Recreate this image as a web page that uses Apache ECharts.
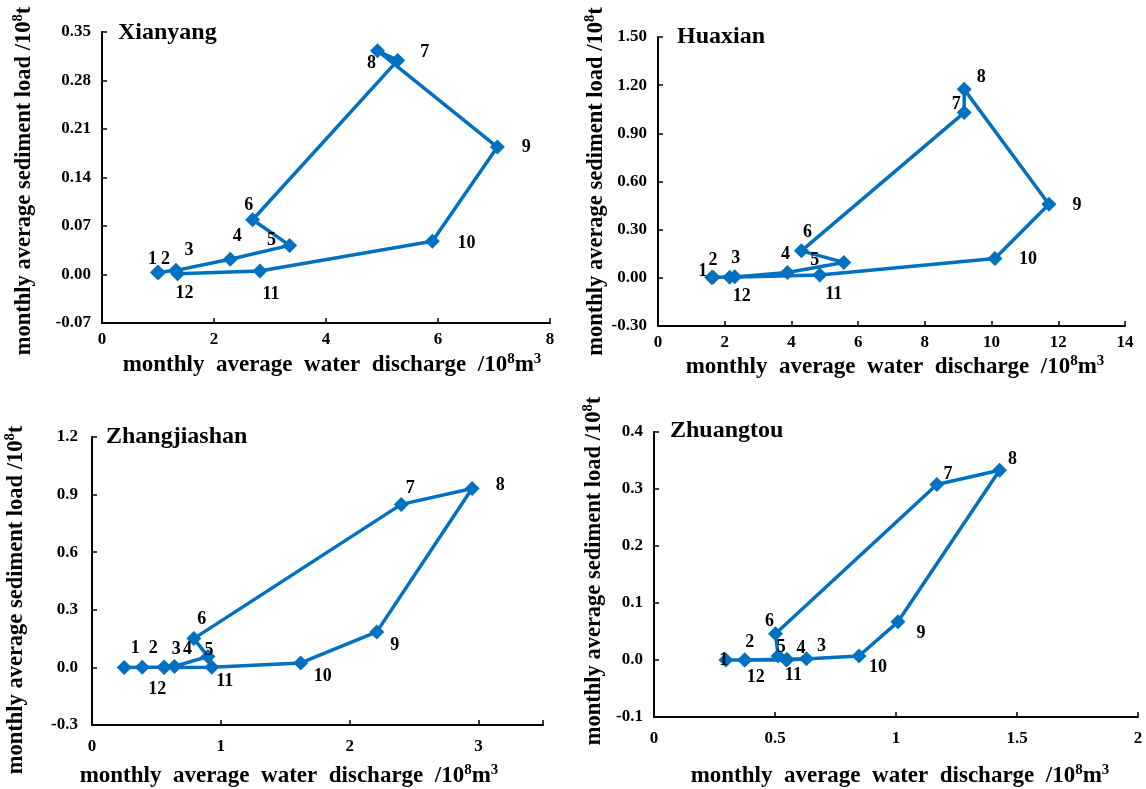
<!DOCTYPE html>
<html>
<head>
<meta charset="utf-8">
<script src="https://cdn.jsdelivr.net/npm/echarts@6/dist/echarts.min.js"></script>
<style>
  html, body { margin: 0; padding: 0; background: #fff; }
  #chart { width: 1146px; height: 789px; }
</style>
</head>
<body>
<div id="chart"></div>
<script>
// month numbers used as point labels
const months = ['1', '2', '3', '4', '5', '6', '7', '8', '9', '10', '11', '12'];
const stations = ['Xianyang', 'Huaxian', 'Zhangjiashan', 'Zhuangtou'];

// monthly average water discharge (10^8 m3) and sediment load (10^8 t)
const xianyangWater = [0.99, 1.01, 1.32, 2.29, 3.35, 2.69, 5.28, 4.92, 7.06, 5.90, 2.82, 1.35];
const xianyangSed = [0.003, 0.003, 0.006, 0.022, 0.042, 0.079, 0.309, 0.323, 0.184, 0.048, 0.005, 0.001];
const huaxianWater = [1.61, 1.65, 2.30, 3.88, 5.57, 4.30, 9.18, 9.18, 11.72, 10.10, 4.85, 2.15];
const huaxianSed = [0.002, 0.003, 0.006, 0.033, 0.096, 0.168, 1.029, 1.174, 0.458, 0.121, 0.017, 0.003];
const zhangWater = [0.25, 0.39, 0.56, 0.64, 0.90, 0.79, 2.40, 2.95, 2.21, 1.62, 0.93, 0.56];
const zhangSed = [0.000, 0.001, 0.002, 0.005, 0.057, 0.150, 0.849, 0.932, 0.185, 0.023, 0.001, 0.000];
const zhuangWater = [0.297, 0.375, 0.630, 0.550, 0.513, 0.502, 1.169, 1.428, 1.008, 0.847, 0.547, 0.375];
const zhuangSed = [0.000, 0.000, 0.002, 0.001, 0.007, 0.046, 0.308, 0.333, 0.067, 0.007, 0.000, 0.000];

// axis ticks
const xTicks = [[0, 8, 2], [0, 14, 2], [0, 3.5, 1], [0, 2, 0.5]];
const yTicks = [[-0.07, 0.35, 0.07], [-0.30, 1.50, 0.30], [-0.3, 1.2, 0.3], [-0.1, 0.4, 0.1]];
const yDigits = [2, 2, 1, 1];

// where each month label sits relative to its point (px)
const labelOffsets = [
  [[-5, -13], [7, -13], [13, -20], [7, -23], [-18, -5], [-4, -14], [27, -8], [-6, 13], [29, 0], [34, 2], [11, 23], [7, 20]],
  [[-9, -6], [0, -17], [1, -19], [-2, -18], [-29, -2], [6, -19], [-8, -8], [17, -12], [28, 1], [33, 1], [14, 19], [12, 19]],
  [[11, -19], [11, -19], [12, -18], [13, -17], [1, -6], [8, -19], [9, -16], [28, -3], [18, 13], [22, 13], [13, 14], [-7, 22]],
  [[-2, 0], [5, -18], [15, -13], [14, -11], [3, -9], [-6, -12], [11, -10], [13, -11], [23, 12], [19, 11], [7, 15], [11, 17]]
];

const seriesData = [
  [xianyangWater, xianyangSed],
  [huaxianWater, huaxianSed],
  [zhangWater, zhangSed],
  [zhuangWater, zhuangSed]
];

const grids = [
  { left: 102, top: 32, width: 448, height: 291 },
  { left: 658, top: 37, width: 467, height: 289 },
  { left: 92, top: 437, width: 451, height: 288 },
  { left: 654, top: 432, width: 484, height: 285 }
];
const xNameGap = [29, 28, 38, 46];
const yNameGap = [65, 49, 63, 47];
const xNamePad = [[0, 0, 0, 12], [0, 0, 0, 7], [0, 57, 0, 0], [0, 0, 0, 8]];
const yNamePad = [[0, 7, 0, 0], [0, 0, 0, 0], [0, 38, 0, 0], [0, 0, 0, 7]];
const titlePos = [[118, 21], [677, 25], [106, 425], [670, 419]];

const FONT = '"Liberation Serif", "Times New Roman", serif';
const BLUE = '#0070C0';

const richX = {
  a: { fontFamily: FONT, fontWeight: 'bold', fontSize: 23, color: '#000', lineHeight: 27 },
  s: { fontFamily: FONT, fontWeight: 'bold', fontSize: 15, color: '#000', verticalAlign: 'top', lineHeight: 27 }
};
const richY = {
  a: { fontFamily: FONT, fontWeight: 'bold', fontSize: 22.5, color: '#000', lineHeight: 26 },
  s: { fontFamily: FONT, fontWeight: 'bold', fontSize: 14.5, color: '#000', verticalAlign: 'top', lineHeight: 26 }
};

let chart = echarts.init(document.getElementById('chart'));

let option = {
  backgroundColor: '#fff',
  animation: false,
  title: stations.map((s, i) => ({
    text: s,
    left: titlePos[i][0],
    top: titlePos[i][1],
    padding: 0,
    textStyle: { fontFamily: FONT, fontWeight: 'bold', fontSize: 24, color: '#000' }
  })),
  grid: grids,
  xAxis: xTicks.map((t, i) => ({
    type: 'value',
    gridIndex: i,
    min: t[0],
    max: t[1],
    interval: t[2],
    name: '{a|monthly  average  water  discharge  /10}{s|8}{a|m}{s|3}',
    nameLocation: 'middle',
    nameGap: xNameGap[i],
    nameTextStyle: { rich: richX, padding: xNamePad[i] },
    axisLine: { show: true, onZero: false, lineStyle: { color: '#000', width: 2 } },
    axisTick: { show: true, inside: true, length: 5, lineStyle: { color: '#000', width: 1.5 } },
    axisLabel: {
      margin: i < 2 ? 8 : 13,
      fontFamily: FONT, fontWeight: 'bold', fontSize: 17, color: '#000',
      formatter: v => (v > t[1] - 1e-9 && i === 2) ? '' : String(+v.toFixed(2))
    },
    splitLine: { show: false }
  })),
  yAxis: yTicks.map((t, i) => ({
    type: 'value',
    gridIndex: i,
    min: t[0],
    max: t[1],
    interval: t[2],
    name: '{a|monthly average sediment load /10}{s|8}{a|t}',
    nameLocation: 'middle',
    nameRotate: 90,
    nameGap: yNameGap[i],
    nameTextStyle: { rich: richY, padding: yNamePad[i] },
    axisLine: { show: true, onZero: false, lineStyle: { color: '#000', width: 2 } },
    axisTick: { show: true, inside: true, length: 5, lineStyle: { color: '#000', width: 1.5 } },
    axisLabel: {
      margin: i === 2 ? 14 : 11,
      fontFamily: FONT, fontWeight: 'bold', fontSize: 17, color: '#000',
      formatter: v => v.toFixed(yDigits[i])
    },
    splitLine: { show: false }
  })),
  series: seriesData.map((d, i) => ({
    name: stations[i],
    type: 'line',
    xAxisIndex: i,
    yAxisIndex: i,
    symbol: 'diamond',
    symbolSize: 15,
    showAllSymbol: true,
    lineStyle: { color: BLUE, width: 3.5 },
    itemStyle: { color: BLUE },
    label: {
      show: true,
      position: 'inside',
      fontFamily: FONT, fontWeight: 'bold', fontSize: 18, color: '#000',
      formatter: p => months[p.dataIndex]
    },
    data: d[0].map((x, k) => ({
      value: [x, d[1][k]],
      label: { offset: labelOffsets[i][k] }
    }))
  }))
};

chart.setOption(option);
</script>
</body>
</html>
